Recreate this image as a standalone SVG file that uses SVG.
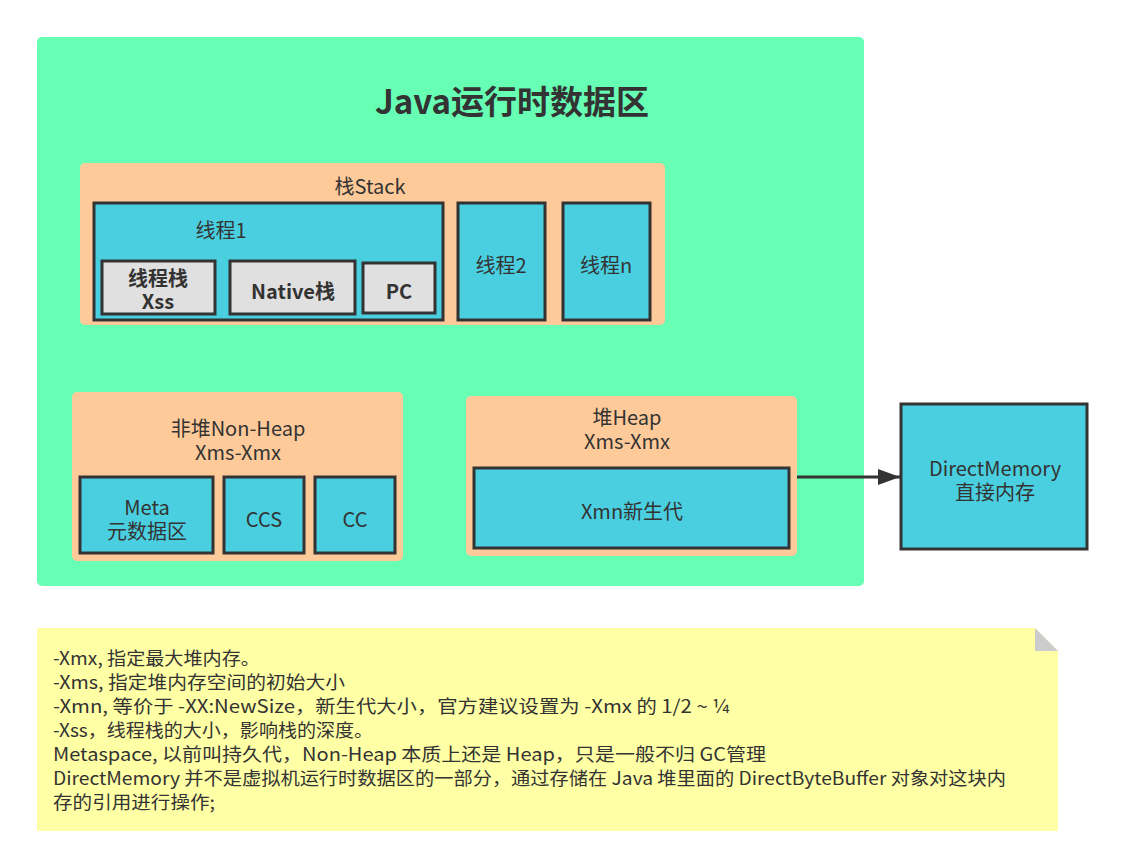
<svg xmlns="http://www.w3.org/2000/svg" width="1124" height="868" viewBox="0 0 1124 868">
<defs>
<marker id="arr" markerWidth="22" markerHeight="16" refX="22" refY="8" orient="auto" markerUnits="userSpaceOnUse" viewBox="0 0 22 16">
<path d="M0,0 L22,8 L0,16 Z" fill="#333"/>
</marker>
</defs>
<style>
text{font-family:"Noto Sans CJK SC","Noto Sans",sans-serif;fill:#333;text-anchor:middle;dominant-baseline:central}
.t{font-size:20px}
.b{font-size:20px;font-weight:bold}
.grp{fill:#FFCA99}
.blue{fill:#4ACFE0;stroke:#333;stroke-width:3}
.grey{fill:#E0E0E0;stroke:#333;stroke-width:3}
.note{font-size:18px;text-anchor:start;dominant-baseline:auto}
</style>
<rect x="0" y="0" width="1124" height="868" fill="#fff"/>
<g id="runtime">
<rect x="37" y="37" width="827" height="549" rx="5" fill="#66FFB3"/>
<text x="512" y="100" style="font-size:33px;font-weight:bold">Java运行时数据区</text>
</g>
<g id="stack">
<rect class="grp" x="80" y="163" width="585" height="162" rx="5"/>
<text class="t" x="370" y="185">栈Stack</text>
</g>
<g id="thread1">
<rect class="blue" x="94" y="203" width="349" height="117"/>
<text class="t" x="221" y="229">线程1</text>
</g>
<g id="xss">
<rect class="grey" x="102" y="261" width="113" height="53"/>
<text class="b" x="158" y="277">线程栈</text>
<text class="b" x="158" y="300">Xss</text>
</g>
<g id="native">
<rect class="grey" x="230" y="261" width="125" height="53"/>
<text class="b" x="293" y="290">Native栈</text>
</g>
<g id="pc">
<rect class="grey" x="363" y="263" width="72" height="50"/>
<text class="b" x="399" y="290">PC</text>
</g>
<g id="thread2">
<rect class="blue" x="458" y="203" width="87" height="117"/>
<text class="t" x="501" y="264">线程2</text>
</g>
<g id="threadn">
<rect class="blue" x="563" y="203" width="87" height="117"/>
<text class="t" x="606" y="264">线程n</text>
</g>
<g id="nonheap">
<rect class="grp" x="72" y="392" width="331" height="169" rx="5"/>
<text class="t" x="238" y="427">非堆Non-Heap</text>
<text class="t" x="238" y="451">Xms-Xmx</text>
</g>
<g id="meta">
<rect class="blue" x="80" y="477" width="133" height="76"/>
<text class="t" x="147" y="506">Meta</text>
<text class="t" x="147" y="530">元数据区</text>
</g>
<g id="ccs">
<rect class="blue" x="224" y="477" width="80" height="76"/>
<text class="t" x="264" y="518">CCS</text>
</g>
<g id="cc">
<rect class="blue" x="315" y="477" width="80" height="76"/>
<text class="t" x="355" y="518">CC</text>
</g>
<g id="heap">
<rect class="grp" x="466" y="396" width="331" height="160" rx="5"/>
<text class="t" x="627" y="416">堆Heap</text>
<text class="t" x="627" y="440">Xms-Xmx</text>
</g>
<g id="xmn">
<rect class="blue" x="474" y="468" width="315" height="80"/>
<text class="t" x="632" y="510">Xmn新生代</text>
</g>
<g id="direct">
<rect class="blue" x="901" y="404" width="186" height="145"/>
<text class="t" x="995" y="467">DirectMemory</text>
<text class="t" x="995" y="491">直接内存</text>
</g>
<g id="connectors">
<line x1="797" y1="477" x2="900" y2="477" stroke="#333" stroke-width="3" marker-end="url(#arr)"/>
</g>
<g id="notes">
<path d="M37,628 H1035 L1058,651 V831 H37 Z" fill="#FFFFA6"/>
<path d="M1035,628 L1058,651 H1035 Z" fill="#CCCCCC"/>
<text class="note" x="53" y="665" textLength="207" lengthAdjust="spacingAndGlyphs">-Xmx, 指定最大堆内存。</text>
<text class="note" x="53" y="689" textLength="292" lengthAdjust="spacingAndGlyphs">-Xms, 指定堆内存空间的初始大小</text>
<text class="note" x="53" y="713" textLength="677" lengthAdjust="spacingAndGlyphs">-Xmn, 等价于 -XX:NewSize，新生代大小，官方建议设置为 -Xmx 的 1/2 ~ ¼</text>
<text class="note" x="53" y="737" textLength="320" lengthAdjust="spacingAndGlyphs">-Xss，线程栈的大小，影响栈的深度。</text>
<text class="note" x="53" y="761" textLength="713" lengthAdjust="spacingAndGlyphs">Metaspace, 以前叫持久代，Non-Heap 本质上还是 Heap，只是一般不归 GC管理</text>
<text class="note" x="53" y="785" textLength="953" lengthAdjust="spacingAndGlyphs">DirectMemory 并不是虚拟机运行时数据区的一部分，通过存储在 Java 堆里面的 DirectByteBuffer 对象对这块内</text>
<text class="note" x="53" y="809" textLength="162" lengthAdjust="spacingAndGlyphs">存的引用进行操作;</text>
</g>
</svg>
